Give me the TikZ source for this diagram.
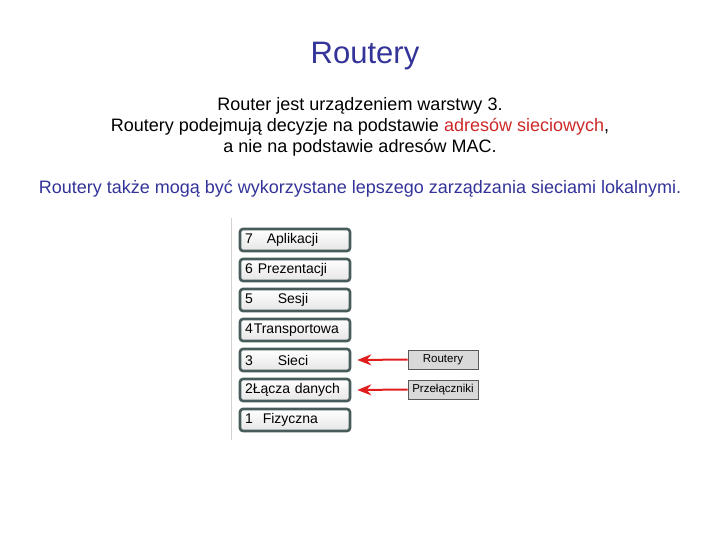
\documentclass[tikz,border=0pt]{standalone}
\usepackage{fontspec}
\setmainfont{Liberation Sans}
\usetikzlibrary{arrows.meta, shadings}
\definecolor{tytul}{RGB}{51,51,153}
\definecolor{czerwony}{RGB}{204,40,40}
\definecolor{ramka}{RGB}{72,92,92}
\definecolor{strzalka}{RGB}{225,30,30}
\tikzset{
  warstwa/.style={draw=ramka, line width=2.6pt, rounded corners=3pt,
    top color=white, bottom color=gray!20, minimum width=108pt,
    minimum height=22pt, text width=100pt, align=left, inner xsep=5pt,
    inner ysep=2pt, font=\fontsize{14}{15}\selectfont},
  urzadzenie/.style={draw=gray!70!black, line width=0.8pt, fill=gray!30,
    minimum width=70pt, minimum height=19pt, inner sep=1pt,
    font=\fontsize{11.5}{12}\selectfont},
  wskaz/.style={-{Stealth[length=14pt, width=11pt]}, strzalka, line width=2pt}
}
\begin{document}
\begin{tikzpicture}[x=1pt, y=-1pt]
  % 1. rozmiar strony
  \useasboundingbox (0,0) rectangle (720,540);

  % 2. tytul i tekst
  \node[tytul, font=\fontsize{31}{36}\selectfont] (tytul) at (365,56) {Routery};
  \node[align=center, font=\fontsize{18}{21}\selectfont] (opis) at (360,127)
    {Router jest urządzeniem warstwy 3.\\
     Routery podejmują decyzje na podstawie \textcolor{czerwony}{adresów sieciowych},\\
     a nie na podstawie adresów MAC.};
  \node[tytul, font=\fontsize{18}{21}\selectfont] (uwaga) at (360,189)
    {Routery także mogą być wykorzystane lepszego zarządzania sieciami lokalnymi.};

  % 3. model warstwowy
  \draw[gray!35, line width=0.8pt] (231,218) -- (231,440);
  \foreach \n/\g/\t [count=\i] in {7/14/Aplikacji, 6/5/Prezentacji, 5/25/Sesji,
      4/1/Transportowa, 3/25/Sieci, 2/0/Łącza danych, 1/10/Fizyczna}
    \node[warstwa] (w\n) at (295,{210+30*\i}) {\n\hspace{\g pt}\t};

  % 4. urzadzenia i strzalki
  \node[urzadzenie] (router) at (443,359.5) {Routery};
  \node[urzadzenie] (przelacznik) at (443,389.5) {Przełączniki};
  \draw[wskaz] (router.west) -- ([xshift=6pt]w3.east);
  \draw[wskaz] (przelacznik.west) -- ([xshift=6pt]w2.east);
\end{tikzpicture}
\end{document}
